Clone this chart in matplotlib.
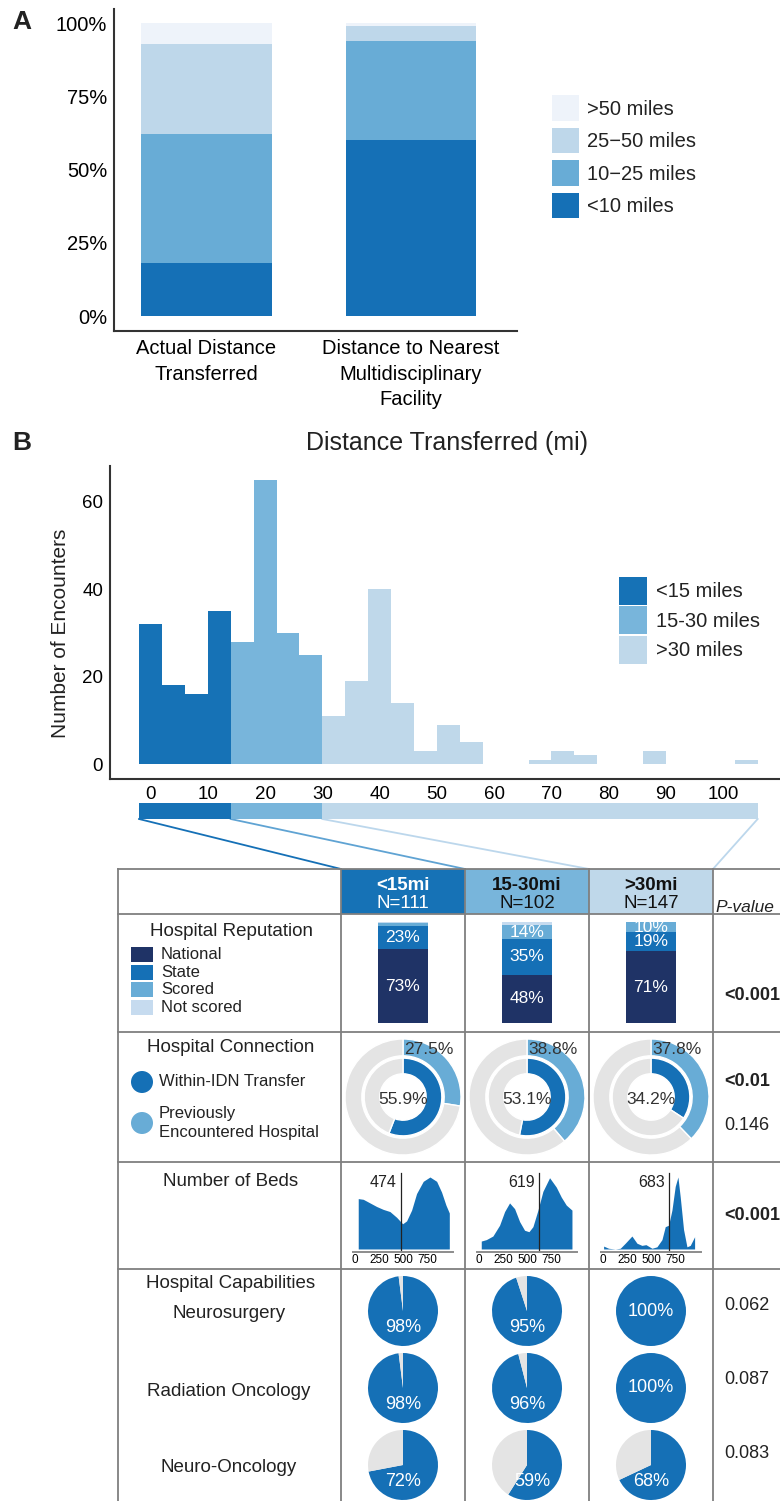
import matplotlib
matplotlib.use('Agg')
import matplotlib.pyplot as plt
from matplotlib.patches import Rectangle, Circle, Patch

plt.rcParams['font.family'] = ['Liberation Sans', 'DejaVu Sans']
plt.rcParams['text.color'] = '#222222'

W, H = 780, 1501

# ---- panel A: share of encounters by distance band (%)
a_groups = ['Actual Distance\nTransferred', 'Distance to Nearest\nMultidisciplinary\nFacility']
a_lt10 = [18, 60]
a_10_25 = [44, 34]
a_25_50 = [31, 5]
a_gt50 = [7, 1]
a_labels = ['<10 miles', '10\u221225 miles', '25\u221250 miles', '>50 miles']
a_colors = ['#1570b6', '#68acd6', '#bed7ea', '#eef3fa']

# ---- panel B: histogram of distance transferred (4 mile bins)
hist_start = [-2, 2, 6, 10, 14, 18, 22, 26, 30, 34, 38, 42, 46, 50, 54, 58, 62,
              66, 70, 74, 78, 82, 86, 90, 94, 98, 102]
hist_counts = [32, 18, 16, 35, 28, 65, 30, 25, 11, 19, 40, 14, 3, 9, 5, 0, 0,
               1, 3, 2, 0, 0, 3, 0, 0, 0, 1]
group_names = ['<15 miles', '15-30 miles', '>30 miles']
group_colors = ['#1672b6', '#78b5db', '#bfd8ea']
group_edges = [-2, 14, 30, 106]

# ---- table
col_titles = ['<15mi', '15-30mi', '>30mi']
col_n = [111, 102, 147]

rep_names = ['National', 'State', 'Scored', 'Not scored']
rep_colors = ['#1f3366', '#1570b6', '#68acd6', '#c6dbef']
rep_national = [73, 48, 71]
rep_state = [23, 35, 19]
rep_scored = [3, 14, 10]
rep_notscored = [1, 3, 0]

conn_prev = [27.5, 38.8, 37.8]   # previously encountered hospital (outer ring)
conn_idn = [55.9, 53.1, 34.2]    # within-IDN transfer (inner ring)

beds_median = [474, 619, 683]
beds_x = [
    [34, 86, 155, 224, 292, 361, 430, 492, 533, 585, 636, 705, 774, 843, 894, 939, 974],
    [24, 76, 144, 213, 265, 316, 368, 420, 471, 516, 557, 609, 660, 729, 798, 850, 901, 960],
    [7, 58, 127, 179, 230, 299, 351, 402, 444, 506, 557, 609, 643, 678, 712, 746, 774,
     798, 832, 867, 901, 946],
]
beds_density = [
    [0.70, 0.69, 0.64, 0.59, 0.55, 0.52, 0.44, 0.35, 0.39, 0.54, 0.77, 0.94, 1.0, 0.94,
     0.79, 0.61, 0.50],
    [0.11, 0.13, 0.18, 0.33, 0.52, 0.64, 0.56, 0.38, 0.26, 0.24, 0.31, 0.54, 0.80, 0.99,
     0.86, 0.72, 0.61, 0.54],
    [0.04, 0.01, 0.00, 0.01, 0.08, 0.18, 0.08, 0.05, 0.06, 0.01, 0.03, 0.13, 0.31, 0.33,
     0.54, 0.87, 1.0, 0.72, 0.27, 0.03, 0.05, 0.17],
]

cap_names = ['Neurosurgery', 'Radiation Oncology', 'Neuro-Oncology']
cap_neurosurgery = [98, 95, 100]
cap_radonc = [98, 96, 100]
cap_neuroonc = [72, 59, 68]
p_caps = ['0.062', '0.087', '0.083']

BLUE = '#1570b6'
LIGHT = '#68acd6'
GRAY = '#e4e4e4'


def box(l, t, r, b):
    return [l / W, 1 - b / H, (r - l) / W, (b - t) / H]


fig = plt.figure(figsize=(W / 100, H / 100), dpi=100)

# overlay in pixel coordinates for the table frame and annotations
ov = fig.add_axes([0, 0, 1, 1])
ov.set_xlim(0, W)
ov.set_ylim(H, 0)
ov.axis('off')

# ================= panel A =================
axA = fig.add_axes(box(114, 9, 517, 331))
axA.set_facecolor('none')
bottom = [0, 0]
for vals, col in zip([a_lt10, a_10_25, a_25_50, a_gt50], a_colors):
    axA.bar([0, 1], vals, bottom=bottom, width=0.636, color=col, linewidth=0)
    bottom = [b + v for b, v in zip(bottom, vals)]
axA.set_xlim(-0.452, 1.518)
axA.set_ylim(-5.1, 104.8)
axA.set_yticks([0, 25, 50, 75, 100])
axA.set_yticklabels(['0%', '25%', '50%', '75%', '100%'])
axA.set_xticks([0, 1])
axA.set_xticklabels(a_groups, linespacing=1.42, va='top')
axA.tick_params(axis='y', length=0, labelsize=14.5, pad=5)
axA.tick_params(axis='x', length=0, labelsize=14.5, pad=6)
for s in ['top', 'right']:
    axA.spines[s].set_visible(False)
for s in ['left', 'bottom']:
    axA.spines[s].set_color('#333333')
    axA.spines[s].set_linewidth(1.5)
handles = [Patch(facecolor=c, edgecolor='none') for c in a_colors][::-1]
axA.legend(handles, a_labels[::-1], loc='upper left',
           bbox_to_anchor=(552 / W, 1 - 95 / H), bbox_transform=fig.transFigure,
           frameon=False, fontsize=14.5, handlelength=1.35, handleheight=1.6,
           labelspacing=0.33, handletextpad=0.4, borderpad=0, borderaxespad=0)
fig.text(22 / W, 1 - 22 / H, 'A', fontsize=19, fontweight='bold', ha='center', va='center')

# ================= panel B =================
fig.text(22 / W, 1 - 443 / H, 'B', fontsize=19, fontweight='bold', ha='center', va='center')
fig.text(447 / W, 1 - 443 / H, 'Distance Transferred (mi)', fontsize=18, ha='center', va='center')

xl = (-7.07, 109.9)
axB = fig.add_axes(box(110, 466, 780, 779))
axB.set_facecolor('none')
hist_colors = []
for s in hist_start:
    g = 0 if s < group_edges[1] else (1 if s < group_edges[2] else 2)
    hist_colors.append(group_colors[g])
axB.bar(hist_start, hist_counts, width=4, align='edge', color=hist_colors, linewidth=0)
axB.set_xlim(*xl)
axB.set_ylim(-3.4, 68.1)
axB.set_xticks(range(0, 101, 10))
axB.set_yticks([0, 20, 40, 60])
axB.tick_params(length=0, labelsize=13.5, pad=5)
for s in ['top', 'right']:
    axB.spines[s].set_visible(False)
for s in ['left', 'bottom']:
    axB.spines[s].set_color('#333333')
    axB.spines[s].set_linewidth(1.5)
fig.text(61 / W, 1 - 633 / H, 'Number of Encounters', rotation=90, fontsize=15,
         ha='center', va='center')
handles = [Patch(facecolor=c, edgecolor='none') for c in group_colors]
axB.legend(handles, group_names, loc='upper left',
           bbox_to_anchor=(618.5 / W, 1 - 577 / H), bbox_transform=fig.transFigure,
           frameon=False, fontsize=14.5, handlelength=1.4, handleheight=1.75,
           labelspacing=0.08, handletextpad=0.45, borderpad=0, borderaxespad=0)

# strip below the histogram
axS = fig.add_axes(box(110, 803, 780, 819))
axS.barh([0, 0, 0], [group_edges[i + 1] - group_edges[i] for i in range(3)],
         left=group_edges[:-1], height=1, color=group_colors, linewidth=0)
axS.set_xlim(*xl)
axS.set_ylim(-0.5, 0.5)
axS.axis('off')


def data_to_px(x):
    return 110 + (x - xl[0]) * 670 / (xl[1] - xl[0])


# ================= table =================
xs = [118, 341, 465, 589, 713, 800]
ys = [869, 914, 1032, 1162, 1269]
centers = [(xs[i + 1] + xs[i + 2]) / 2 for i in range(3)]

# connector lines from the strip to the column headers
line_cols = ['#1570b6', '#5fa3d3', '#bcd7ec', '#bcd7ec']
for e, tx, c in zip(group_edges, xs[1:5], line_cols):
    ov.plot([data_to_px(e), tx], [819, 869], color=c, lw=1.3)

for i in range(3):
    ov.add_patch(Rectangle((xs[i + 1], ys[0]), xs[i + 2] - xs[i + 1], ys[1] - ys[0],
                           facecolor=group_colors[i], edgecolor='none', zorder=1))
    tc = 'white' if i == 0 else '#111111'
    ov.text(centers[i], 886, col_titles[i], ha='center', va='center', fontsize=13.5,
            fontweight='bold', color=tc, zorder=3)
    ov.text(centers[i], 903, 'N=%d' % col_n[i], ha='center', va='center', fontsize=13.5,
            color=tc, zorder=3)
ov.text(715, 907, 'P-value', ha='left', va='center', fontsize=12.5, style='italic', zorder=3)

grid_kw = dict(color='#7f7f7f', lw=1.3, zorder=2)
for x in xs[:-1]:
    ov.plot([x, x], [ys[0], H + 5], **grid_kw)
for y in ys:
    ov.plot([xs[0], W + 5], [y, y], **grid_kw)

# --- Hospital Reputation
ov.text(231, 931, 'Hospital Reputation', ha='center', va='center', fontsize=13.5)
for k, (name, c) in enumerate(zip(rep_names, rep_colors)):
    yc = 954.5 + k * 17.7
    ov.add_patch(Rectangle((131, yc - 7.5), 22, 15, facecolor=c, edgecolor='none'))
    ov.text(161, yc, name, ha='left', va='center', fontsize=12)
ov.text(724, 996, '<0.001', ha='left', va='center', fontsize=13, fontweight='bold')

for i in range(3):
    ax = fig.add_axes(box(centers[i] - 25, 922, centers[i] + 25, 1023))
    ax.set_facecolor('none')
    bot = 0
    for vals, c in zip([rep_national, rep_state, rep_scored, rep_notscored], rep_colors):
        v = vals[i]
        ax.bar(0, v, bottom=bot, width=1, color=c, linewidth=0)
        if v >= 5:
            ax.text(0, bot + v / 2, '%d%%' % v, ha='center', va='center', color='white',
                    fontsize=12.5)
        bot += v
    ax.set_xlim(-0.5, 0.5)
    ax.set_ylim(0, 100)
    ax.axis('off')

# --- Hospital Connection
ov.text(231, 1048, 'Hospital Connection', ha='center', va='center', fontsize=13.5)
ov.add_patch(Circle((142, 1082), 11, facecolor=BLUE, edgecolor='none'))
ov.add_patch(Circle((142, 1123), 11, facecolor=LIGHT, edgecolor='none'))
ov.text(159, 1082, 'Within-IDN Transfer', ha='left', va='center', fontsize=12)
ov.text(159, 1123, 'Previously\nEncountered Hospital', ha='left', va='center', fontsize=12,
        linespacing=1.35)
ov.text(724, 1082, '<0.01', ha='left', va='center', fontsize=13, fontweight='bold')
ov.text(724, 1125, '0.146', ha='left', va='center', fontsize=13)

R = 58
for i in range(3):
    ax = fig.add_axes(box(centers[i] - 62, 1097 - 62, centers[i] + 62, 1097 + 62))
    ax.set_facecolor('none')
    ax.pie([conn_prev[i], 100 - conn_prev[i]], radius=1, startangle=90, counterclock=False,
           colors=[LIGHT, GRAY], wedgeprops=dict(width=0.29, edgecolor='white', linewidth=1))
    ax.pie([conn_idn[i], 100 - conn_idn[i]], radius=0.67, startangle=90, counterclock=False,
           colors=[BLUE, GRAY], wedgeprops=dict(width=0.27, edgecolor='white', linewidth=1))
    ax.set_xlim(-62 / R, 62 / R)
    ax.set_ylim(-62 / R, 62 / R)
    ax.set_aspect('equal')
    ax.text(0.02, 48 / R, '%.1f%%' % conn_prev[i], ha='left', va='center', fontsize=12.5,
            color='#333333')
    ax.text(0, -3 / R, '%.1f%%' % conn_idn[i], ha='center', va='center', fontsize=12.5,
            color='#333333')

# --- Number of Beds
ov.text(231, 1182, 'Number of Beds', ha='center', va='center', fontsize=13.5)
ov.text(724, 1215, '<0.001', ha='left', va='center', fontsize=13, fontweight='bold')
for i in range(3):
    left = centers[i] - 50
    ax = fig.add_axes(box(left, 1168, left + 100, 1252))
    ax.set_facecolor('none')
    ax.fill_between(beds_x[i], 0, beds_density[i], color=BLUE, linewidth=0)
    ax.set_xlim(-20, 1012)
    ax.set_ylim(-0.042, 1.125)
    ax.axvline(beds_median[i], ymin=0, ymax=0.94, color='#222222', lw=0.9)
    ax.annotate(str(beds_median[i]), xy=(beds_median[i], 0.93), xytext=(-3, 0),
                textcoords='offset points', ha='right', va='center', fontsize=11.5)
    ax.set_xticks([0, 250, 500, 750])
    ax.set_yticks([])
    ax.tick_params(length=0, labelsize=8.5, pad=1.5)
    for s in ['top', 'right', 'left']:
        ax.spines[s].set_visible(False)
    ax.spines['bottom'].set_color('#8c8c8c')
    ax.spines['bottom'].set_linewidth(1.4)

# --- Hospital Capabilities
ov.text(231, 1284, 'Hospital Capabilities', ha='center', va='center', fontsize=13.5)
cap_rows = [cap_neurosurgery, cap_radonc, cap_neuroonc]
cap_name_y = [1313, 1391, 1467]
cap_pie_y = [1311, 1388, 1465]
cap_p_y = [1305, 1379, 1454]
for r in range(3):
    ov.text(229, cap_name_y[r], cap_names[r], ha='center', va='center', fontsize=13.5)
    ov.text(724, cap_p_y[r], p_caps[r], ha='left', va='center', fontsize=13)
    for i in range(3):
        v = cap_rows[r][i]
        cy = cap_pie_y[r]
        ax = fig.add_axes(box(centers[i] - 37, cy - 37, centers[i] + 37, cy + 37))
        ax.set_facecolor('none')
        ax.pie([v, 100 - v], radius=1, startangle=90, counterclock=False,
               colors=[BLUE, GRAY], wedgeprops=dict(linewidth=0))
        ax.set_xlim(-37 / 35, 37 / 35)
        ax.set_ylim(-37 / 35, 37 / 35)
        ax.set_aspect('equal')
        ty = 0 if v == 100 else -0.48
        tx = 0.15 if v < 65 else 0
        ax.text(tx, ty, '%d%%' % v, ha='center', va='center', color='white', fontsize=13)

fig.savefig('out.png', dpi=100)
